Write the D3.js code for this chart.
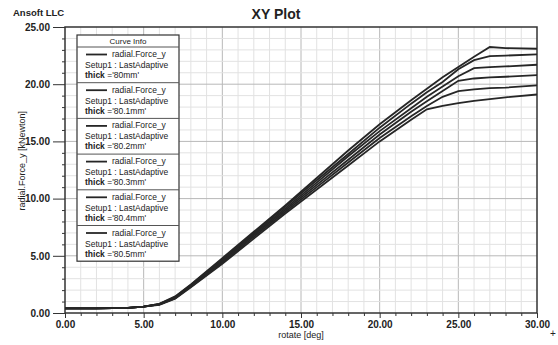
<html>

<head>
  <title>XY Plot</title>
  <script type="text/javascript" src="https://cdn.jsdelivr.net/npm/d3@7"></script>
  <style>
    body { margin: 0; background: #fff; }
    text { font-family: "Liberation Sans", Arial, sans-serif; fill: #222; }
  </style>
</head>

<body>
  <script type="text/javascript">
    // Størrelse
    const w = 558;
    const h = 345;
    const padLeft = 65, padRight = 537, padTop = 27, padBottom = 313;

    // Data
    const rotate = [0, 2, 4, 5, 6, 7, 8, 10, 12, 14, 16, 18, 20, 22, 23, 24, 25, 26, 27, 28, 30];
    const thick80_0 = [0.4, 0.4, 0.45, 0.55, 0.8, 1.45, 2.5, 4.8, 7.1, 9.4, 11.8, 14.2, 16.5, 18.6, 19.6, 20.6, 21.5, 22.4, 23.25, 23.15, 23.1];
    const thick80_1 = [0.4, 0.4, 0.45, 0.55, 0.8, 1.4, 2.45, 4.7, 7.0, 9.3, 11.6, 13.9, 16.2, 18.3, 19.3, 20.2, 21.3, 22.1, 22.45, 22.5, 22.6];
    const thick80_2 = [0.4, 0.4, 0.45, 0.55, 0.75, 1.35, 2.4, 4.6, 6.9, 9.15, 11.4, 13.7, 15.9, 17.9, 18.9, 19.8, 20.7, 21.4, 21.5, 21.55, 21.7];
    const thick80_3 = [0.4, 0.4, 0.45, 0.55, 0.75, 1.3, 2.35, 4.5, 6.8, 9.0, 11.2, 13.4, 15.6, 17.6, 18.5, 19.4, 20.3, 20.5, 20.6, 20.65, 20.8];
    const thick80_4 = [0.4, 0.4, 0.45, 0.55, 0.75, 1.3, 2.3, 4.4, 6.65, 8.85, 11.0, 13.15, 15.3, 17.2, 18.1, 18.9, 19.4, 19.55, 19.65, 19.7, 19.9];
    const thick80_5 = [0.4, 0.4, 0.45, 0.55, 0.7, 1.25, 2.25, 4.3, 6.5, 8.7, 10.8, 12.9, 15.0, 16.9, 17.8, 18.1, 18.35, 18.55, 18.7, 18.85, 19.1];
    const series = [thick80_0, thick80_1, thick80_2, thick80_3, thick80_4, thick80_5];
    const thickLabels = ["'80mm'", "'80.1mm'", "'80.2mm'", "'80.3mm'", "'80.4mm'", "'80.5mm'"];
    const xTicks = [0, 5, 10, 15, 20, 25, 30];
    const yTicks = [0, 5, 10, 15, 20, 25];

    // Skalaer
    const xScale = d3.scaleLinear().domain([0, 30]).range([padLeft, padRight]);
    const yScale = d3.scaleLinear().domain([0, 25]).range([padBottom, padTop]);

    const svg = d3.select("body")
      .append("svg")
      .attr("width", w)
      .attr("height", h);

    // Gitter, et for hver enhed
    const g = svg.append("g");
    g.selectAll(".vg")
      .data(d3.range(1, 30))
      .enter()
      .append("line")
      .attr("x1", d => xScale(d)).attr("x2", d => xScale(d))
      .attr("y1", padTop).attr("y2", padBottom)
      .attr("stroke", d => d % 5 === 0 ? "#b8b8b8" : "#e2e2e2")
      .attr("stroke-width", 1);
    g.selectAll(".hg")
      .data(d3.range(1, 25))
      .enter()
      .append("line")
      .attr("x1", padLeft).attr("x2", padRight)
      .attr("y1", d => yScale(d)).attr("y2", d => yScale(d))
      .attr("stroke", d => d % 5 === 0 ? "#b8b8b8" : "#e2e2e2")
      .attr("stroke-width", 1);

    // Ramme
    svg.append("rect")
      .attr("x", padLeft).attr("y", padTop)
      .attr("width", padRight - padLeft).attr("height", padBottom - padTop)
      .attr("fill", "none").attr("stroke", "#333").attr("stroke-width", 1.5);

    // Akser
    const xAxis = d3.axisBottom(xScale)
      .tickValues(xTicks).tickSize(5).tickPadding(3)
      .tickFormat(d3.format(".2f"));
    const xAxisMinor = d3.axisBottom(xScale)
      .tickValues(d3.range(0, 31).filter(d => d % 5 !== 0)).tickSize(3).tickFormat("");
    const yAxis = d3.axisLeft(yScale)
      .tickValues(yTicks).tickSize(12).tickPadding(3)
      .tickFormat(d3.format(".2f"));
    const yAxisMinor = d3.axisLeft(yScale)
      .tickValues(d3.range(0, 26).filter(d => d % 5 !== 0)).tickSize(3).tickFormat("");

    [xAxis, xAxisMinor].forEach(a => {
      svg.append("g")
        .attr("transform", "translate(0," + padBottom + ")")
        .call(a)
        .call(s => s.select(".domain").remove());
    });
    [yAxis, yAxisMinor].forEach(a => {
      svg.append("g")
        .attr("transform", "translate(" + padLeft + ",0)")
        .call(a)
        .call(s => s.select(".domain").remove());
    });
    svg.selectAll(".tick line").attr("stroke", "#333");
    svg.selectAll(".tick text")
      .attr("font-size", 10)
      .attr("font-weight", "bold")
      .attr("fill", "#333");

    // Kurver
    const line = d3.line()
      .x((d, i) => xScale(rotate[i]))
      .y(d => yScale(d));
    svg.selectAll(".curve")
      .data(series)
      .enter()
      .append("path")
      .attr("d", line)
      .attr("fill", "none")
      .attr("stroke", "#262626")
      .attr("stroke-width", 1.8);

    // Tekster
    svg.append("text")
      .attr("x", 13).attr("y", 16)
      .attr("font-size", 9.5).attr("font-weight", "bold")
      .text("Ansoft LLC");
    svg.append("text")
      .attr("x", 276).attr("y", 19)
      .attr("text-anchor", "middle")
      .attr("font-size", 14).attr("font-weight", "bold")
      .text("XY Plot");
    svg.append("text")
      .attr("x", xScale(15)).attr("y", 338)
      .attr("text-anchor", "middle")
      .attr("font-size", 9)
      .text("rotate [deg]");
    svg.append("text")
      .attr("transform", "translate(25," + yScale(13.3) + ") rotate(-90)")
      .attr("text-anchor", "middle")
      .attr("font-size", 9)
      .text("radial.Force_y [kNewton]");
    svg.append("text")
      .attr("x", 553).attr("y", 337)
      .attr("text-anchor", "middle")
      .attr("font-size", 10).attr("fill", "#888")
      .text("+");

    // Legend
    const lx = 77, ly = 35, lw = 102, headH = 12, rowH = 35.7;
    const legend = svg.append("g");
    legend.append("rect")
      .attr("x", lx).attr("y", ly)
      .attr("width", lw).attr("height", headH + rowH * series.length)
      .attr("fill", "#fff").attr("stroke", "#333").attr("stroke-width", 1.2);
    legend.append("text")
      .attr("x", lx + lw / 2).attr("y", ly + 9)
      .attr("text-anchor", "middle").attr("font-size", 8)
      .text("Curve Info");
    thickLabels.forEach((t, i) => {
      const y0 = ly + headH + rowH * i;
      legend.append("line")
        .attr("x1", lx).attr("x2", lx + lw)
        .attr("y1", y0).attr("y2", y0)
        .attr("stroke", "#555").attr("stroke-width", 1);
      legend.append("line")
        .attr("x1", lx + 9).attr("x2", lx + 30)
        .attr("y1", y0 + 7.5).attr("y2", y0 + 7.5)
        .attr("stroke", "#262626").attr("stroke-width", 1.8);
      legend.append("text")
        .attr("x", lx + 35).attr("y", y0 + 10)
        .attr("font-size", 8.5)
        .text("radial.Force_y");
      legend.append("text")
        .attr("x", lx + 8).attr("y", y0 + 21)
        .attr("font-size", 8.5)
        .text("Setup1 : LastAdaptive");
      const tt = legend.append("text")
        .attr("x", lx + 8).attr("y", y0 + 31)
        .attr("font-size", 8.5);
      tt.append("tspan").attr("font-weight", "bold").text("thick");
      tt.append("tspan").text(" =" + t);
    });
  </script>
</body>

</html>
